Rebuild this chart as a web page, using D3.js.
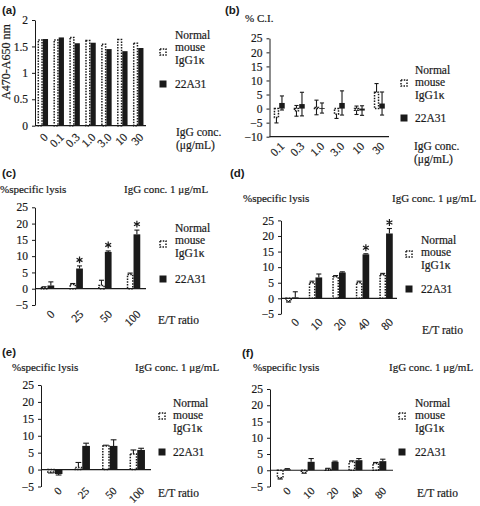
<!DOCTYPE html>
<html><head><meta charset="utf-8">
<script src="https://cdn.jsdelivr.net/npm/d3@7"></script>
<style>
body{margin:0;background:#fff}
svg text{font-family:"Liberation Serif","Times New Roman",serif;fill:#1a1a1a;stroke:#1a1a1a;stroke-width:0.2px}
svg text.lab{font-family:"Liberation Sans",Arial,sans-serif;font-weight:bold;stroke:none}
</style>
</head><body><svg id="c" width="480" height="506"></svg>
<script>
// ---------- data ----------
const concA = ["0","0.1","0.3","1.0","3.0","10","30"];
const normalA = [1.62,1.62,1.67,1.61,1.54,1.63,1.56];
const mabA = [1.64,1.67,1.56,1.57,1.45,1.41,1.47];
const yTicksA = [0,0.5,1,1.5,2];

const concB = ["0.1","0.3","1.0","3.0","10","30"];
const normalB = [-3.2,-0.8,0.4,-2.0,-0.6,5.8];
const normalBErr = [1.9,1.9,2.6,1.5,1.5,3.1];
const mabB = [2.0,1.6,0.2,2.0,-0.7,1.8];
const mabBErr = [2.5,4.2,1.8,4.3,1.7,4.1];
const yTicksB = [-10,-5,0,5,10,15,20,25];

const ratioCE = ["0","25","50","100"];
const ratioDF = ["0","10","20","40","80"];
const yTicksLysis = [-5,0,5,10,15,20,25];

const normalC = [0.3,1.3,1.0,4.4];
const normalCErr = [0.3,0.3,1.6,0.4];
const mabC = [1.0,6.2,11.3,16.7];
const mabCErr = [1.1,0.8,0.3,1.3];
const sigC = [false,true,true,true];

const normalD = [-0.8,5.0,6.9,5.0,7.6];
const normalDErr = [0.4,0.5,0.4,0.5,0.4];
const mabD = [0.3,6.7,8.3,14.1,20.8];
const mabDErr = [1.8,1.1,0.2,0.2,1.6];
const sigD = [false,false,false,true,true];

const normalE = [-0.7,0.6,7.0,4.6];
const normalEErr = [0.3,1.5,0.2,1.2];
const mabE = [-1.3,7.0,7.0,5.8];
const mabEErr = [0.3,0.8,1.8,0.5];

const normalF = [-2.3,-0.7,0.4,2.6,2.1];
const normalFErr = [0.4,0.2,0.2,0.3,0.3];
const mabF = [0.3,2.6,2.6,3.1,2.8];
const mabFErr = [0.2,1.0,0.2,0.5,0.6];

const seriesNames = ["Normal","mouse","IgG1\u03ba"];
const mabName = "22A31";

// ---------- drawing ----------
const svg = d3.select("#c");
const INK = "#1a1a1a";
const star = d3.symbol().type(d3.symbolAsterisk).size(32);

function dotted(sel){
  sel.attr("fill","#fff").attr("stroke",INK).attr("stroke-width",1.5).attr("stroke-dasharray","1.5,1.3");
}

function panel(o){
  const g = svg.append("g");
  const x = d3.scaleBand().domain(o.cats).range(o.xr).paddingInner(o.pi).paddingOuter(o.po);
  const xs = d3.scaleBand().domain(["n","m"]).range([0, x.bandwidth()]);
  const y = d3.scaleLinear().domain(o.yd).range(o.yr);

  const ya = d3.axisLeft(y).tickValues(o.yticks).tickSize(3).tickSizeOuter(0).tickPadding(4)
    .tickFormat(o.fmt || d3.format("~g"));
  const ag = g.append("g").attr("transform",`translate(${o.xr[0]},0)`).call(ya);
  ag.selectAll("text").attr("font-size",11.5).attr("fill",INK);
  ag.selectAll("line,path").attr("stroke",INK).attr("stroke-width",1);

  const series = [
    {k:"n", v:o.normal, e:o.normalErr},
    {k:"m", v:o.mab, e:o.mabErr}
  ];
  const bw = xs.bandwidth();
  const cw = bw*0.75;
  // error bars
  series.forEach(s=>{
    if(!s.e) return;
    o.cats.forEach((c,i)=>{
      const v=s.v[i], e=s.e[i];
      const cx = x(c)+xs(s.k)+bw/2;
      let lo, hi;
      if(o.both){ lo=v-e; hi=v+e; }
      else if(v>=0){ lo=v; hi=v+e; } else { lo=v-e; hi=v; }
      g.append("line").attr("x1",cx).attr("x2",cx).attr("y1",y(lo)).attr("y2",y(hi))
        .attr("stroke",INK).attr("stroke-width",1.1);
      const caps = o.both ? [lo,hi] : [v>=0?hi:lo];
      caps.forEach(cv=>g.append("line").attr("x1",cx-cw/2).attr("x2",cx+cw/2)
        .attr("y1",y(cv)).attr("y2",y(cv)).attr("stroke",INK).attr("stroke-width",1.1));
    });
  });
  // bars
  series.forEach(s=>{
    const r = g.selectAll(null).data(o.cats).enter().append("rect")
      .attr("x",c=>x(c)+xs(s.k)+(s.k==="n"?0.75:0))
      .attr("width",s.k==="n"?bw-1.5:bw)
      .attr("y",(c,i)=>y(Math.max(0,s.v[i])))
      .attr("height",(c,i)=>Math.max(0.8,Math.abs(y(s.v[i])-y(0))));
    if(s.k==="n") dotted(r); else r.attr("fill",INK);
  });
  // x axis line
  const ay = y(o.axisAt);
  g.append("line").attr("x1",o.xr[0]).attr("x2",o.xr[1]).attr("y1",ay).attr("y2",ay)
    .attr("stroke",INK).attr("stroke-width",1.2);
  // asterisks
  if(o.sig){
    o.cats.forEach((c,i)=>{
      if(!o.sig[i]) return;
      const cx = x(c)+xs("m")+bw/2;
      g.append("path").attr("d",star)
        .attr("transform",`translate(${cx},${y(o.mab[i]+o.mabErr[i])-6})`)
        .attr("stroke",INK).attr("stroke-width",1.2).attr("fill","none");
    });
  }
  // x tick labels
  o.cats.forEach(c=>{
    const cx = x(c)+x.bandwidth()/2;
    g.append("text").attr("transform",`translate(${cx+o.ldx},${o.labY}) rotate(-45)`)
      .attr("text-anchor","end").attr("dy","0.35em").attr("font-size",o.lfs||11.5).text(c);
  });
  // legend
  const L = o.leg;
  g.append("rect").attr("x",L.sx-3).attr("y",L.sy1-3).attr("width",6).attr("height",6).call(dotted);
  g.append("rect").attr("x",L.sx-3.5).attr("y",L.sy2-3.5).attr("width",7).attr("height",7).attr("fill",INK);
  seriesNames.forEach((t,i)=>g.append("text").attr("x",L.tx).attr("y",L.ty+i*12.3).attr("font-size",11.5).text(t));
  g.append("text").attr("x",L.tx).attr("y",L.sy2+4).attr("font-size",11.5).text(mabName);
  // extra texts
  (o.texts||[]).forEach(t=>{
    const el = g.append("text").attr("x",t.x).attr("y",t.y).attr("font-size",t.fs||11).text(t.t);
    if(t.cls) el.attr("class",t.cls);
    if(t.rot) el.attr("transform",`rotate(${t.rot},${t.x},${t.y})`).attr("text-anchor","middle");
  });
}

// (a)
panel({cats:concA, normal:normalA, mab:mabA, xr:[35,146], pi:0.34, po:0.16,
  yd:[0,2], yr:[125.7,20], yticks:yTicksA, axisAt:0, labY:135, ldx:3,
  leg:{sx:163, sy1:52, sy2:84, tx:175, ty:39},
  texts:[{t:"(a)",x:2,y:14,cls:"lab",fs:11.5},
    {t:"A470-A650 nm",x:10,y:62,rot:-90,fs:12},
    {t:"IgG conc.",x:176,y:136,fs:11.5},{t:"(\u03bcg/mL)",x:176,y:149,fs:11.5}]});

// (b)
panel({cats:concB, normal:normalB, normalErr:normalBErr, mab:mabB, mabErr:mabBErr, both:true,
  xr:[269.5,389], pi:0.45, po:0.21, yd:[-10,25], yr:[136.7,38.3], yticks:yTicksB,
  axisAt:-10, labY:144, ldx:3,
  leg:{sx:404, sy1:83, sy2:118, tx:415, ty:74},
  texts:[{t:"(b)",x:225,y:14,cls:"lab",fs:11.5},{t:"% C.I.",x:245,y:22},
    {t:"IgG conc.",x:414,y:150,fs:11.5},{t:"(\u03bcg/mL)",x:414,y:163,fs:11.5}]});

// (c)
panel({cats:ratioCE, normal:normalC, normalErr:normalCErr, mab:mabC, mabErr:mabCErr, sig:sigC,
  xr:[35,146], pi:0.53, po:0.2, yd:[-5,25], yr:[305,207.3], yticks:yTicksLysis,
  axisAt:0, labY:312, ldx:5,
  leg:{sx:163, sy1:244, sy2:279, tx:175, ty:232},
  texts:[{t:"(c)",x:2,y:177,cls:"lab",fs:11.5},{t:"%specific lysis",x:0,y:193},
    {t:"IgG conc.  1 \u03bcg/mL",x:124,y:193},{t:"E/T ratio",x:158,y:324,fs:11.5}]});

// (d)
panel({cats:ratioDF, normal:normalD, normalErr:normalDErr, mab:mabD, mabErr:mabDErr, sig:sigD,
  xr:[281,397], pi:0.43, po:0.18, yd:[-5,25], yr:[313.9,220.4], yticks:yTicksLysis,
  axisAt:0, labY:320, ldx:5,
  leg:{sx:409, sy1:254, sy2:289, tx:421, ty:244},
  texts:[{t:"(d)",x:230,y:177,cls:"lab",fs:11.5},{t:"%specific lysis",x:243,y:202},
    {t:"IgG conc.  1 \u03bcg/mL",x:392,y:202},{t:"E/T ratio",x:422,y:334,fs:11.5}]});

// (e)
panel({cats:ratioCE, normal:normalE, normalErr:normalEErr, mab:mabE, mabErr:mabEErr,
  xr:[41,151], pi:0.44, po:0.22, yd:[-5,25], yr:[486.5,385], yticks:yTicksLysis,
  axisAt:0, labY:489, ldx:5, lfs:11,
  leg:{sx:162, sy1:416, sy2:452, tx:173, ty:407},
  texts:[{t:"(e)",x:2,y:356,cls:"lab",fs:11.5},{t:"%specific lysis",x:12,y:371},
    {t:"IgG conc.  1 \u03bcg/mL",x:135,y:371},{t:"E/T ratio",x:158,y:497,fs:11.5}]});

// (f)
panel({cats:ratioDF, normal:normalF, normalErr:normalFErr, mab:mabF, mabErr:mabFErr,
  xr:[270,393], pi:0.41, po:0.28, yd:[-5,25], yr:[486.5,389], yticks:yTicksLysis,
  axisAt:0, labY:489, ldx:5, lfs:11,
  leg:{sx:402, sy1:416, sy2:452, tx:415, ty:407},
  texts:[{t:"(f)",x:242,y:357,cls:"lab",fs:11.5},{t:"%specific lysis",x:253,y:371},
    {t:"IgG conc.  1 \u03bcg/mL",x:389,y:371},{t:"E/T ratio",x:417,y:497,fs:11.5}]});
</script>
</body></html>
